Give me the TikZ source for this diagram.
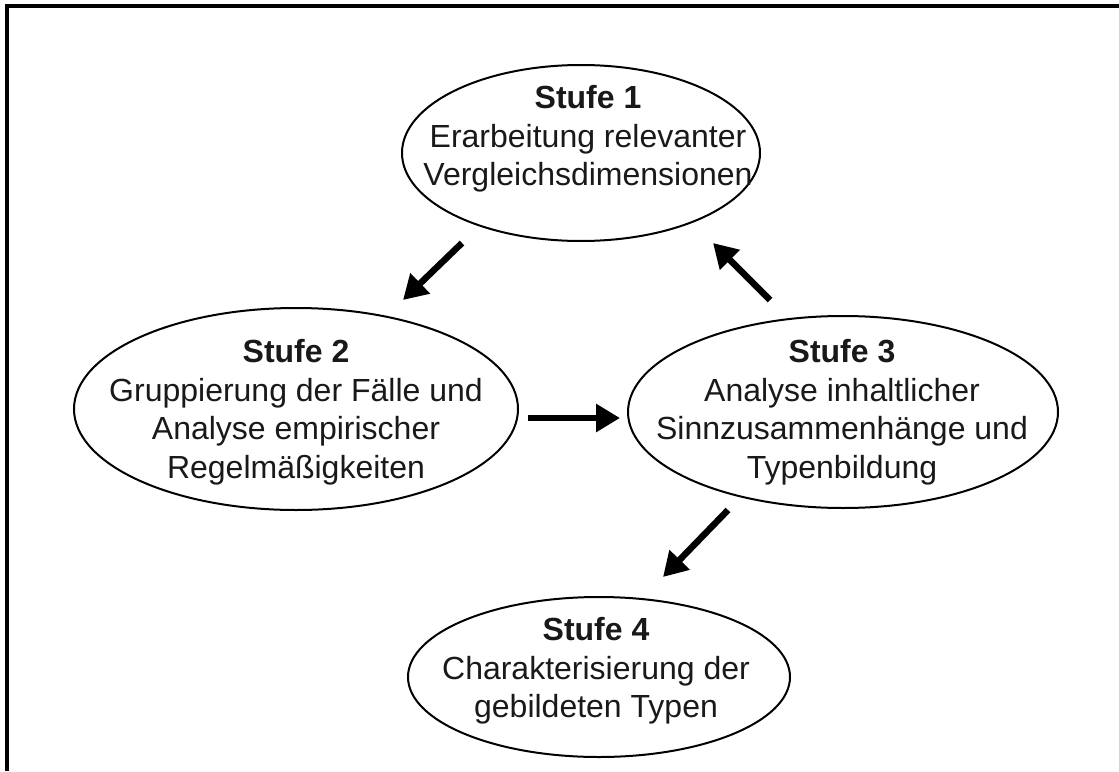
\documentclass[tikz,border=0pt]{standalone}
\usepackage{fontspec}
\setmainfont{Liberation Sans}
\usetikzlibrary{shapes.geometric,arrows.meta}
\begin{document}
\begin{tikzpicture}[x=1pt,y=-1pt,
  stage/.style={draw, ellipse, line width=2pt, inner sep=0pt},
  stagetext/.style={align=center, inner sep=0pt, text=black!90,
    font=\fontsize{32}{38.5}\selectfont},
  flow/.style={line width=6.5pt, -{Triangle[length=24pt,width=27pt]}}]
  \useasboundingbox (0,0) rectangle (1119,771);
  % frame: top and left edges
  \draw[line width=3.2pt] (7,771) -- (7,6) -- (1119,6);

  % stages
  \node[stage, minimum width=358pt, minimum height=176pt] (s1) at (581,153) {};
  \node[stage, minimum width=444pt, minimum height=202pt] (s2) at (296,409) {};
  \node[stage, minimum width=430pt, minimum height=192pt] (s3) at (843,412) {};
  \node[stage, minimum width=382pt, minimum height=160pt] (s4) at (599,677) {};

  \node[stagetext] (t1) at (588,139) {\textbf{Stufe 1}\\Erarbeitung relevanter\\Vergleichsdimensionen};
  \node[stagetext] (t2) at (296,412) {\textbf{Stufe 2}\\Gruppierung der Fälle und\\Analyse empirischer\\Regelmäßigkeiten};
  \node[stagetext] (t3) at (842,412) {\textbf{Stufe 3}\\Analyse inhaltlicher\\Sinnzusammenhänge und\\Typenbildung};
  \node[stagetext] (t4) at (596,671) {\textbf{Stufe 4}\\Charakterisierung der\\gebildeten Typen};

  % arrow end points between the stages
  \coordinate (a1s) at (462,243); \coordinate (a1e) at (403,300);
  \coordinate (a2s) at (770,300); \coordinate (a2e) at (713,243);
  \coordinate (a3s) at (528,418); \coordinate (a3e) at (620,418);
  \coordinate (a4s) at (728,510); \coordinate (a4e) at (663,577);

  \draw[flow] (a1s) -- (a1e);
  \draw[flow] (a2s) -- (a2e);
  \draw[flow] (a3s) -- (a3e);
  \draw[flow] (a4s) -- (a4e);
\end{tikzpicture}
\end{document}
